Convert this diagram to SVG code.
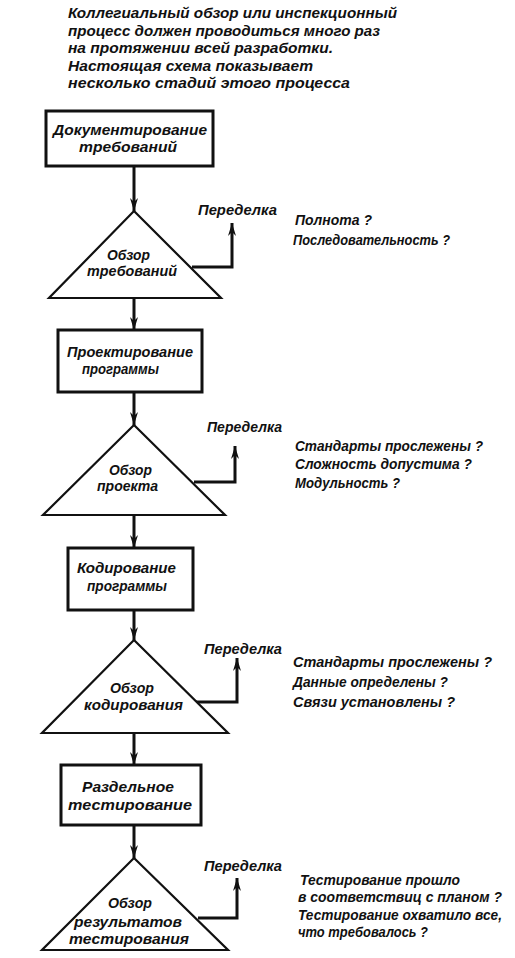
<svg xmlns="http://www.w3.org/2000/svg" width="515" height="958" viewBox="0 0 515 958">
<style>
text{font-family:"Liberation Sans",Arial,sans-serif;font-style:italic;font-weight:bold;fill:#111;}
.note{font-size:14px;}
.lbl{font-size:14.5px;}
.q{font-size:14px;}
.box{fill:#fff;stroke:#111;stroke-width:3;}
.tri{fill:#fff;stroke:#111;stroke-width:2.2;stroke-linejoin:miter;}
.con{fill:none;stroke:#111;stroke-width:3;marker-end:url(#ah);}
</style>
<defs>
<marker id="ah" markerUnits="userSpaceOnUse" markerWidth="14" markerHeight="10" refX="13" refY="5" orient="auto" viewBox="0 0 14 10">
<path d="M0,1 L13,5 L0,9 L4,5 Z" fill="#111"/>
</marker>
</defs>
<rect width="515" height="958" fill="#fff"/>
<g id="note">
<text class="note" x="68" y="18" textLength="329" lengthAdjust="spacingAndGlyphs">Коллегиальный обзор или инспекционный</text>
<text class="note" x="68" y="36" textLength="312" lengthAdjust="spacingAndGlyphs">процесс должен проводиться много раз</text>
<text class="note" x="68" y="53" textLength="265" lengthAdjust="spacingAndGlyphs">на протяжении всей разработки.</text>
<text class="note" x="68" y="71" textLength="245" lengthAdjust="spacingAndGlyphs">Настоящая схема показывает</text>
<text class="note" x="68" y="88" textLength="282" lengthAdjust="spacingAndGlyphs">несколько стадий этого процесса</text>
</g>
<g id="connectors">
<line class="con" x1="134" y1="166" x2="134" y2="211"/>
<line class="con" x1="134" y1="298" x2="134" y2="330"/>
<line class="con" x1="134" y1="392" x2="134" y2="425"/>
<line class="con" x1="134" y1="515" x2="134" y2="548"/>
<line class="con" x1="134" y1="610" x2="134" y2="640"/>
<line class="con" x1="134" y1="733" x2="134" y2="765"/>
<line class="con" x1="134" y1="825" x2="134" y2="858"/>
<polyline class="con" points="192,267 232,267 232,223"/>
<polyline class="con" points="194,482 235,482 235,446"/>
<polyline class="con" points="196,702 237,702 237,658"/>
<polyline class="con" points="198,918 237,918 237,878"/>
</g>
<g id="n1">
<rect class="box" x="46" y="111" width="167" height="55"/>
<text class="lbl" x="53" y="135" textLength="154" lengthAdjust="spacingAndGlyphs">Документирование</text>
<text class="lbl" x="79" y="152" textLength="98" lengthAdjust="spacingAndGlyphs">требований</text>
</g>
<g id="r1">
<polygon class="tri" points="134,211 221,298 49,298"/>
<text class="lbl" x="107" y="260" textLength="43" lengthAdjust="spacingAndGlyphs">Обзор</text>
<text class="lbl" x="87" y="276" textLength="90" lengthAdjust="spacingAndGlyphs">требований</text>
<text class="lbl" x="198" y="215" textLength="79" lengthAdjust="spacingAndGlyphs">Переделка</text>
<text class="q" x="295" y="225" textLength="77" lengthAdjust="spacingAndGlyphs">Полнота ?</text>
<text class="q" x="293" y="245" textLength="157" lengthAdjust="spacingAndGlyphs">Последовательность ?</text>
</g>
<g id="n2">
<rect class="box" x="58" y="330" width="144" height="62"/>
<text class="lbl" x="67" y="357" textLength="126" lengthAdjust="spacingAndGlyphs">Проектирование</text>
<text class="lbl" x="82" y="374" textLength="77" lengthAdjust="spacingAndGlyphs">программы</text>
</g>
<g id="r2">
<polygon class="tri" points="134,425 225,515 43,515"/>
<text class="lbl" x="109" y="475" textLength="43" lengthAdjust="spacingAndGlyphs">Обзор</text>
<text class="lbl" x="97" y="491" textLength="61" lengthAdjust="spacingAndGlyphs">проекта</text>
<text class="lbl" x="207" y="432" textLength="75" lengthAdjust="spacingAndGlyphs">Переделка</text>
<text class="q" x="295" y="451" textLength="188" lengthAdjust="spacingAndGlyphs">Стандарты прослежены ?</text>
<text class="q" x="295" y="469" textLength="177" lengthAdjust="spacingAndGlyphs">Сложность допустима ?</text>
<text class="q" x="295" y="488" textLength="105" lengthAdjust="spacingAndGlyphs">Модульность ?</text>
</g>
<g id="n3">
<rect class="box" x="68" y="548" width="125" height="62"/>
<text class="lbl" x="77" y="573" textLength="99" lengthAdjust="spacingAndGlyphs">Кодирование</text>
<text class="lbl" x="87" y="591" textLength="80" lengthAdjust="spacingAndGlyphs">программы</text>
</g>
<g id="r3">
<polygon class="tri" points="134,640 228,733 42,733"/>
<text class="lbl" x="110" y="693" textLength="44" lengthAdjust="spacingAndGlyphs">Обзор</text>
<text class="lbl" x="84" y="710" textLength="99" lengthAdjust="spacingAndGlyphs">кодирования</text>
<text class="lbl" x="204" y="654" textLength="78" lengthAdjust="spacingAndGlyphs">Переделка</text>
<text class="q" x="293" y="667" textLength="199" lengthAdjust="spacingAndGlyphs">Стандарты прослежены ?</text>
<text class="q" x="293" y="687" textLength="155" lengthAdjust="spacingAndGlyphs">Данные определены ?</text>
<text class="q" x="293" y="707" textLength="162" lengthAdjust="spacingAndGlyphs">Связи установлены ?</text>
</g>
<g id="n4">
<rect class="box" x="61" y="765" width="140" height="60"/>
<text class="lbl" x="82" y="792" textLength="92" lengthAdjust="spacingAndGlyphs">Раздельное</text>
<text class="lbl" x="68" y="810" textLength="124" lengthAdjust="spacingAndGlyphs">тестирование</text>
</g>
<g id="r4">
<polygon class="tri" points="134,858 228,950 42,950"/>
<text class="lbl" x="108" y="908" textLength="44" lengthAdjust="spacingAndGlyphs">Обзор</text>
<text class="lbl" x="74" y="927" textLength="108" lengthAdjust="spacingAndGlyphs">результатов</text>
<text class="lbl" x="69" y="944" textLength="120" lengthAdjust="spacingAndGlyphs">тестирования</text>
<text class="lbl" x="204" y="871" textLength="78" lengthAdjust="spacingAndGlyphs">Переделка</text>
<text class="q" x="300" y="885" textLength="160" lengthAdjust="spacingAndGlyphs">Тестирование прошло</text>
<text class="q" x="298" y="902" textLength="204" lengthAdjust="spacingAndGlyphs">в соответствиц с планом ?</text>
<text class="q" x="298" y="920" textLength="204" lengthAdjust="spacingAndGlyphs">Тестирование охватило все,</text>
<text class="q" x="298" y="937" textLength="130" lengthAdjust="spacingAndGlyphs">что требовалось ?</text>
</g>
</svg>
